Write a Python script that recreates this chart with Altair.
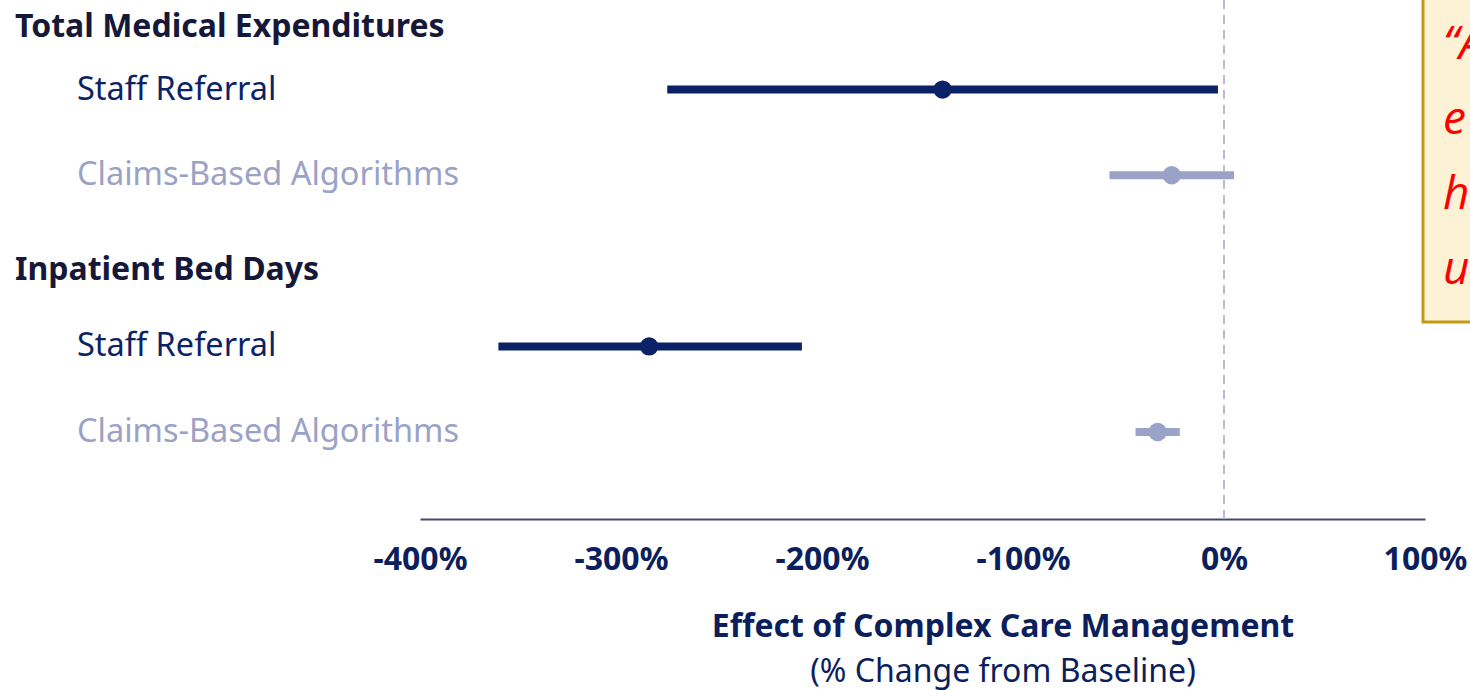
import altair as alt
import pandas as pd

categories = ["Total Medical Expenditures", "Inpatient Bed Days"]
methods = ["Staff Referral", "Claims-Based Algorithms"]
# per (category, method), in order
estimates = [-140, -26, -286, -33]
lower = [-277, -57, -361, -44]
upper = [-3, 5, -210, -22]

tick_values = [-400, -300, -200, -100, 0, 100]
axis_title = "Effect of Complex Care Management"
axis_subtitle = "(% Change from Baseline)"
callout_lines = ["\u201cA", "e", "h", "u"]

NAVY = "#0b2366"
LIGHT = "#9aa2c7"

rows = []
domain = []
i = 0
for c in categories:
    domain.append(c)
    for m in methods:
        key = c + "|" + m
        domain.append(key)
        rows.append({"category": c, "method": m, "row": key,
                     "est": estimates[i], "lo": lower[i], "hi": upper[i]})
        i += 1
df = pd.DataFrame(rows)
hdf = pd.DataFrame({"row": categories, "label": categories})

yscale = alt.Scale(type="point", domain=domain, range=[4, 432], padding=0)
color = alt.Color("method:N", scale=alt.Scale(domain=methods, range=[NAVY, LIGHT]), legend=None)
xscale = alt.Scale(domain=[-400, 100], nice=False, zero=False)

base = alt.Chart(df)

zero = alt.Chart(pd.DataFrame({"v": [0]})).mark_rule(
    color="#b7bbd6", strokeWidth=2, strokeDash=[9, 6]
).encode(x=alt.X("v:Q", scale=xscale), y=alt.value(0), y2=alt.value(519))

bars = base.mark_rule(strokeWidth=8).encode(
    x=alt.X("lo:Q", scale=xscale,
            axis=alt.Axis(values=tick_values, labelExpr="datum.value + '%'", title=None,
                          grid=False, ticks=False, domainColor="#45486e", domainWidth=2,
                          labelFont="Noto Sans", labelFontSize=32, labelFontWeight="bold",
                          labelColor="#0c1f5c", labelPadding=25, labelFlush=False)),
    x2="hi:Q",
    y=alt.Y("row:N", scale=yscale, axis=None),
    color=color,
)

pts = base.mark_circle(size=340, opacity=1).encode(
    x=alt.X("est:Q", scale=xscale),
    y=alt.Y("row:N", scale=yscale, axis=None),
    color=color,
)

labels = base.mark_text(align="left", baseline="middle", font="Noto Sans", fontSize=32.5).encode(
    x=alt.value(-343),
    y=alt.Y("row:N", scale=yscale, axis=None),
    text="method:N",
    color=color,
)

header_style = dict(align="left", baseline="middle", font="Noto Sans",
                    fontSize=32, fontWeight="bold", color="#16183a")
headers1 = alt.Chart(hdf).transform_filter(
    alt.datum.row == categories[0]
).mark_text(dy=23, **header_style).encode(
    x=alt.value(-405),
    y=alt.Y("row:N", scale=yscale, axis=None),
    text="label:N",
)
headers2 = alt.Chart(hdf).transform_filter(
    alt.datum.row == categories[1]
).mark_text(dy=9, **header_style).encode(
    x=alt.value(-405),
    y=alt.Y("row:N", scale=yscale, axis=None),
    text="label:N",
)

title1 = alt.Chart(pd.DataFrame({"t": [axis_title]})).mark_text(
    font="Noto Sans", fontSize=32, fontWeight="bold", color="#0c1f5c", baseline="middle"
).encode(x=alt.value(583), y=alt.value(627), text="t:N")
title2 = alt.Chart(pd.DataFrame({"t": [axis_subtitle]})).mark_text(
    font="Noto Sans", fontSize=32, color="#0c1f5c", baseline="middle"
).encode(x=alt.value(583), y=alt.value(672), text="t:N")

box = alt.Chart(pd.DataFrame({"b": [1]})).mark_rect(
    fill="#fdf1d6", stroke="#c39a17", strokeWidth=3
).encode(x=alt.value(1003), x2=alt.value(1070), y=alt.value(-10), y2=alt.value(322))

callout = alt.Chart(pd.DataFrame({"t": callout_lines, "k": list(range(len(callout_lines)))})).mark_text(
    align="left", baseline="middle", font="Open Sans", fontSize=46, fontStyle="italic",
    color="#ff0000"
).encode(x=alt.value(1023), y=alt.Y("k:O", scale=alt.Scale(range=[45, 270], padding=0), axis=None), text="t:N")

chart = alt.layer(zero, bars, pts, labels, headers1, headers2, title1, title2, box, callout).resolve_scale(
    y="independent"
).properties(
    width=1005, height=519,
    autosize=alt.AutoSizeParams(type="none"),
    padding={"left": 420, "top": 0, "right": 45, "bottom": 171},
).configure(
    background="white",
    view=alt.ViewConfig(strokeWidth=0, stroke="transparent"),
)

chart.save("out.html", embed_options={"renderer": "svg", "actions": False})
